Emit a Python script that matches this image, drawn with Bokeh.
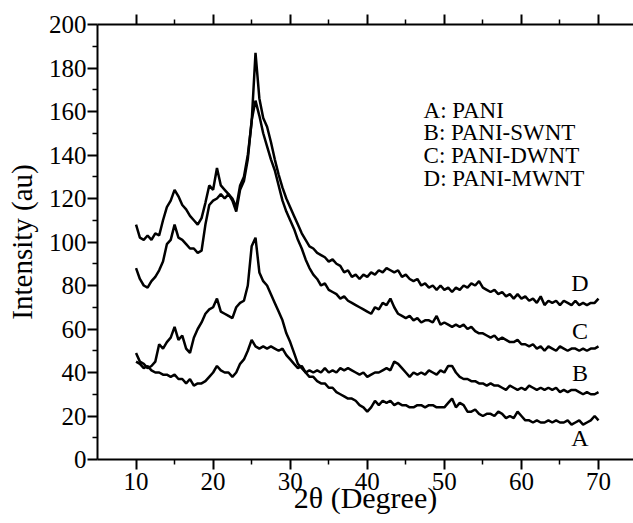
from bokeh.plotting import figure
from bokeh.models import LinearAxis, FixedTicker, Range1d, CustomJSTickFormatter
from bokeh.core.properties import value
from bokeh.embed import file_html
from bokeh.resources import INLINE

# 2-theta sample positions (degrees)
two_theta = [10 + 0.5 * i for i in range(121)]

# A: PANI
pani = [49, 45, 44, 42, 43, 45, 53, 51, 54, 56,
        61, 55, 57, 51, 49, 56, 60, 63, 67, 69,
        70, 74, 68, 67, 66, 65, 70, 72, 73, 80,
        98, 102, 86, 82, 80, 76, 72, 68, 64, 58,
        54, 49, 44, 42, 40, 38, 38, 36, 35, 35,
        33, 33, 31, 30, 29, 28, 28, 27, 25, 24,
        22, 24, 27, 25, 27, 26, 27, 25, 26, 25,
        25, 24, 24, 25, 25, 24, 25, 25, 24, 24,
        24, 26, 28, 24, 26, 25, 22, 22, 23, 21,
        20, 21, 21, 20, 22, 21, 19, 20, 19, 22,
        20, 18, 18, 17, 18, 17, 17, 18, 17, 18,
        17, 17, 18, 16, 17, 18, 16, 17, 18, 20,
        18]

# B: PANI-SWNT
pani_swnt = [45, 44, 42, 43, 41, 40, 40, 39, 39, 38,
             39, 37, 37, 35, 37, 34, 35, 35, 36, 38,
             40, 43, 41, 40, 40, 38, 40, 44, 46, 50,
             55, 52, 51, 52, 51, 52, 51, 50, 51, 48,
             46, 44, 42, 43, 40, 41, 40, 41, 40, 42,
             40, 41, 40, 42, 41, 42, 41, 40, 39, 40,
             38, 39, 40, 40, 41, 42, 41, 45, 44, 42,
             40, 38, 40, 39, 40, 39, 41, 40, 39, 41,
             40, 43, 43, 40, 38, 37, 37, 36, 36, 35,
             35, 34, 35, 34, 34, 33, 32, 34, 33, 32,
             33, 32, 34, 33, 32, 33, 32, 33, 32, 33,
             31, 32, 31, 32, 32, 31, 30, 31, 30, 30,
             31]

# C: PANI-DWNT
pani_dwnt = [88, 83, 80, 79, 82, 84, 87, 91, 99, 101,
             108, 102, 101, 99, 97, 97, 95, 96, 108, 117,
             119, 120, 122, 120, 122, 119, 114, 124, 128, 138,
             156, 165, 158, 150, 144, 138, 133, 126, 119, 114,
             110, 106, 101, 97, 92, 88, 85, 83, 80, 81,
             78, 77, 76, 74, 75, 73, 72, 71, 70, 69,
             68, 67, 70, 69, 72, 71, 74, 70, 67, 66,
             65, 66, 64, 65, 63, 64, 64, 63, 66, 62,
             63, 62, 61, 62, 61, 62, 60, 61, 59, 58,
             58, 57, 56, 57, 55, 56, 55, 54, 54, 55,
             53, 53, 52, 53, 51, 52, 50, 52, 51, 50,
             52, 51, 50, 51, 51, 50, 51, 50, 51, 51,
             52]

# D: PANI-MWNT
pani_mwnt = [108, 102, 101, 103, 101, 104, 103, 110, 116, 119,
             124, 121, 117, 115, 112, 110, 108, 111, 118, 126,
             124, 134, 126, 124, 122, 120, 116, 126, 130, 140,
             155, 187, 166, 157, 153, 146, 138, 131, 125, 120,
             116, 112, 108, 104, 101, 98, 97, 95, 94, 93,
             91, 92, 90, 89, 86, 87, 84, 85, 83, 85,
             84, 86, 85, 87, 86, 88, 87, 86, 87, 84,
             85, 83, 82, 83, 80, 81, 79, 80, 78, 80,
             78, 79, 77, 79, 78, 80, 79, 81, 80, 82,
             79, 78, 77, 78, 76, 77, 75, 76, 74, 76,
             74, 75, 73, 74, 72, 75, 71, 73, 72, 73,
             71, 73, 72, 71, 73, 71, 72, 71, 72, 72,
             74]

series = [pani, pani_swnt, pani_dwnt, pani_mwnt]
curve_letters = ["A", "B", "C", "D"]
curve_letter_x = [67.6, 67.6, 67.6, 67.6]
curve_letter_y = [10, 40, 59, 81]
legend_lines = ["A: PANI", "B: PANI-SWNT", "C: PANI-DWNT", "D: PANI-MWNT"]
legend_x = [47.3, 47.3, 47.3, 47.3]
legend_y = [160.5, 150.5, 139.8, 129.2]

x_major = [10, 20, 30, 40, 50, 60, 70]
x_minor = [15, 25, 35, 45, 55, 65, 75]
y_major = [0, 20, 40, 60, 80, 100, 120, 140, 160, 180, 200]
y_minor = [10, 30, 50, 70, 90, 110, 130, 150, 170, 190]

FONT = "Liberation Serif"

p = figure(width=633, height=523, output_backend="svg", toolbar_location=None,
           x_range=Range1d(5, 74.54), y_range=Range1d(0, 200),
           min_border_left=97, min_border_right=0, min_border_top=24,
           min_border_bottom=64)
p.xgrid.visible = False
p.ygrid.visible = False
p.outline_line_color = None
p.background_fill_color = "white"
p.border_fill_color = "white"


def style(ax, major, minor, fs="25px"):
    ax.ticker = FixedTicker(ticks=major, minor_ticks=minor)
    ax.axis_line_color = "black"
    ax.axis_line_width = 2
    ax.major_tick_line_color = "black"
    ax.major_tick_line_width = 2
    ax.minor_tick_line_color = "black"
    ax.minor_tick_line_width = 1.5
    ax.major_tick_out = 10
    ax.major_tick_in = 0
    ax.minor_tick_out = 5
    ax.minor_tick_in = 0
    ax.major_label_text_font = FONT
    ax.major_label_text_font_size = fs
    ax.major_label_text_color = "black"


def title(ax, text, standoff, fs="29px"):
    ax.axis_label = text
    ax.axis_label_text_font = FONT
    ax.axis_label_text_font_size = fs
    ax.axis_label_text_font_style = "normal"
    ax.axis_label_text_color = "black"
    ax.axis_label_standoff = standoff


style(p.xaxis[0], x_major, x_minor)
p.xaxis[0].major_label_standoff = 3
title(p.xaxis[0], "2θ (Degree)", -12, fs="30px")

style(p.yaxis[0], y_major, y_minor)
p.yaxis[0].major_label_standoff = 1
title(p.yaxis[0], "Intensity (au)", 8)

top = LinearAxis()
style(top, x_major, x_minor, fs="6px")
top.major_label_standoff = 0
top.formatter = CustomJSTickFormatter(code="return ''")
p.add_layout(top, "above")

for ys in series:
    p.line(two_theta, ys, line_color="black", line_width=2.5)

p.text(x=legend_x, y=legend_y, text=legend_lines, text_font=value(FONT),
       text_font_size="23px", text_baseline="middle", text_align="left",
       text_color="black")
p.text(x=curve_letter_x, y=curve_letter_y, text=curve_letters, text_font=value(FONT),
       text_font_size="24px", text_baseline="middle", text_align="center",
       text_color="black")

open("out.html", "w").write(file_html(p, INLINE))
